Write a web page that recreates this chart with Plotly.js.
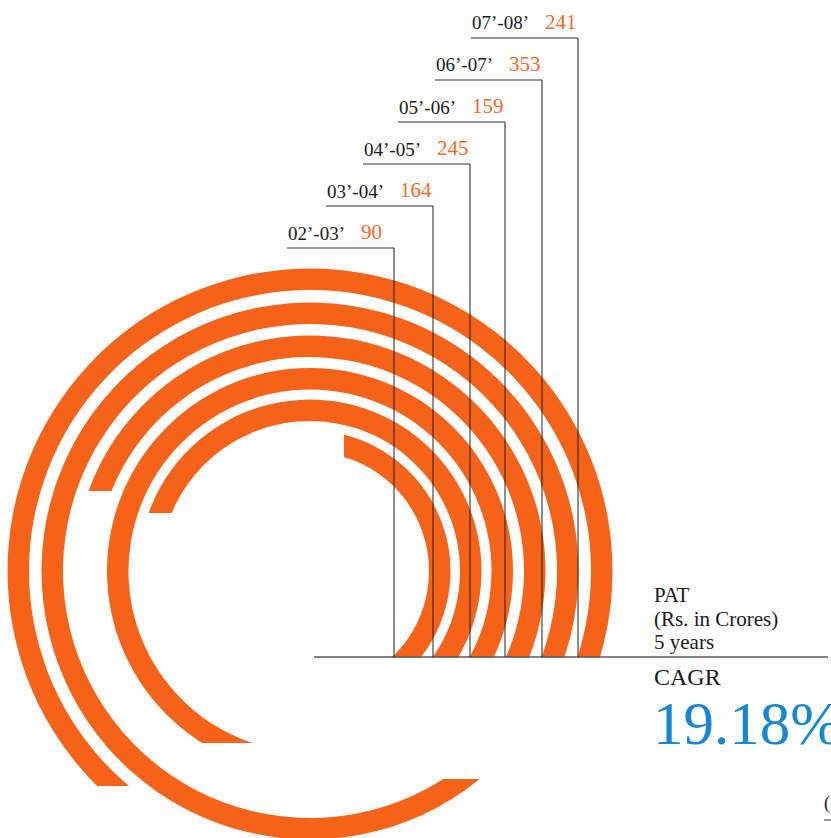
<!DOCTYPE html>
<html>
<head>
<meta charset="utf-8">
<script src="https://cdn.plot.ly/plotly-3.0.1.min.js"></script>
<style>
  html, body { margin: 0; padding: 0; background: #ffffff; overflow: hidden; }
  #wrap { width: 831px; height: 838px; overflow: hidden; position: relative; }
  #chart { width: 831px; height: 890px; }
</style>
</head>
<body>
<div id="wrap"><div id="chart"></div></div>
<script>
// ---- data ----
var years  = ["02\u2019-03\u2019", "03\u2019-04\u2019", "04\u2019-05\u2019", "05\u2019-06\u2019", "06\u2019-07\u2019", "07\u2019-08\u2019"];
var values = [90, 164, 245, 159, 353, 241];
// angle (degrees, counter-clockwise from east) where each ring's arc ends
var arcEndDeg = [74.8, 158.85, 243.5, 159.15, 306.2, 227.5];
var cagrLabel = "19.18%";

// ---- layout / style constants ----
var W = 831, H = 890;
var CX = 310, CY = 571, RPX = 310;      // polar centre & radius in px
var BASE_Y = 657;                        // baseline (px)
var ringInner = [119, 150, 181.5, 214, 247, 281];
var ringThick = 21.5;
var cutType = ["v", "h", "h", "h", "h", "h"];   // straight end cut orientation
var lineX = [394, 433, 470, 505, 542, 578];
var ORANGE = "#F5631A";
var NUM_ORANGE = "#F26A2C";
var BLUE = "#1786D4";
var FONT = "Liberation Serif, Times New Roman, serif";
var D2R = Math.PI / 180;

function px(x) { return x / W; }
function py(y) { return 1 - y / H; }
function ptX(r, deg) { return CX + r * Math.cos(deg * D2R); }
function ptY(r, deg) { return CY - r * Math.sin(deg * D2R); }

var shapes = [];
function maskRect(x0, x1, y0, y1) {
  shapes.push({ type: "rect", xref: "paper", yref: "paper", layer: "above",
    x0: px(x0), x1: px(x1), y0: py(y1), y1: py(y0),
    fillcolor: "#ffffff", line: { width: 0 } });
}

var thetaC = [], widthDeg = [], baseR = [], thickR = [];
for (var i = 0; i < years.length; i++) {
  var rIn = ringInner[i], rOut = rIn + ringThick, rMid = rIn + ringThick / 2;
  // start just below the baseline (hidden under a white mask)
  var start = -(Math.asin((BASE_Y - CY) / rIn) / D2R + 4);
  var a = arcEndDeg[i];
  var cut, dir, coord;
  if (cutType[i] === "h") {
    cut = ptY(rMid, a); dir = -Math.cos(a * D2R) > 0 ? 1 : -1; coord = ptY;
  } else {
    cut = ptX(rMid, a); dir = -Math.sin(a * D2R) > 0 ? 1 : -1; coord = ptX;
  }
  var th = a;
  while (!(dir * (coord(rIn, th) - cut) > 0 && dir * (coord(rOut, th) - cut) > 0) && th < a + 40) th += 0.25;
  var ext = th + 3;
  thetaC.push((start + ext) / 2);
  widthDeg.push(ext - start);
  baseR.push(rIn);
  thickR.push(ringThick);

  // mask beyond the straight cut
  var xs = [ptX(rIn, ext), ptX(rOut, ext)], ys = [ptY(rIn, ext), ptY(rOut, ext)];
  if (cutType[i] === "h") {
    var dy = cut - CY, side = Math.cos(a * D2R) >= 0 ? 1 : -1;
    xs.push(CX + side * Math.sqrt(rIn * rIn - dy * dy), CX + side * Math.sqrt(rOut * rOut - dy * dy));
    var xa = Math.min.apply(null, xs) - 2, xb = Math.max.apply(null, xs) + 2;
    if (dir > 0) maskRect(xa, xb, cut, Math.max.apply(null, ys) + 2);
    else maskRect(xa, xb, Math.min.apply(null, ys) - 2, cut);
  } else {
    var dx = cut - CX, sideY = Math.sin(a * D2R) >= 0 ? -1 : 1;
    ys.push(CY + sideY * Math.sqrt(rIn * rIn - dx * dx), CY + sideY * Math.sqrt(rOut * rOut - dx * dx));
    var ya = Math.min.apply(null, ys) - 2, yb = Math.max.apply(null, ys) + 2;
    if (dir > 0) maskRect(cut, Math.max.apply(null, xs) + 2, ya, yb);
    else maskRect(Math.min.apply(null, xs) - 2, cut, ya, yb);
  }
}

var trace = {
  type: "barpolar",
  r: thickR,
  base: baseR,
  theta: thetaC,
  width: widthDeg,
  marker: { color: ORANGE, line: { width: 0 } },
  hoverinfo: "skip",
  showlegend: false
};

// white mask below baseline to give flat starts
maskRect(378, 831, 657.6, 705);
// baseline
shapes.push({ type: "line", xref: "paper", yref: "paper", layer: "above",
  x0: px(314), x1: px(828), y0: py(BASE_Y), y1: py(BASE_Y),
  line: { color: "#5a5a5a", width: 1.5 } });

var annotations = [];
for (var j = 0; j < years.length; j++) {
  var uy = 248 - 42 * j;          // underline y
  var ux0 = lineX[j] - 107;       // underline left
  shapes.push({ type: "line", xref: "paper", yref: "paper", layer: "above",
    x0: px(ux0), x1: px(lineX[j]), y0: py(uy), y1: py(uy),
    line: { color: "#333333", width: 1.2 } });
  shapes.push({ type: "line", xref: "paper", yref: "paper", layer: "above",
    x0: px(lineX[j]), x1: px(lineX[j]), y0: py(uy), y1: py(BASE_Y),
    line: { color: "#1e1e1e", width: 1 } });
  annotations.push({ xref: "paper", yref: "paper", x: px(ux0 - 1), y: py(uy - 15),
    xanchor: "left", yanchor: "middle", showarrow: false, text: years[j],
    font: { family: FONT, size: 19, color: "#1a1a1a" } });
  annotations.push({ xref: "paper", yref: "paper", x: px(ux0 + 72), y: py(uy - 16),
    xanchor: "left", yanchor: "middle", showarrow: false, text: String(values[j]),
    font: { family: FONT, size: 21, color: NUM_ORANGE } });
}

function txt(x, y, t, size, color, h) {
  var an = { xref: "paper", yref: "paper", x: px(x), y: py(y),
    xanchor: "left", yanchor: "middle", showarrow: false, text: t,
    font: { family: FONT, size: size, color: color } };
  if (h) an.height = h;
  annotations.push(an);
}
txt(652, 595, "PAT", 21, "#1a1a1a");
txt(652, 619, "(Rs. in Crores)", 21, "#1a1a1a");
txt(652, 642, "5 years", 21, "#1a1a1a");
txt(652, 677, "CAGR", 24, "#1a1a1a");
txt(651, 723, cagrLabel, 61, BLUE, 50);
txt(822, 803, "(", 18, "#1a1a1a");
shapes.push({ type: "line", xref: "paper", yref: "paper", layer: "above",
  x0: px(824), x1: px(831), y0: py(820), y1: py(820),
  line: { color: "#333333", width: 1 } });

var layout = {
  width: W, height: H,
  margin: { l: 0, r: 0, t: 0, b: 0, pad: 0 },
  paper_bgcolor: "#ffffff",
  showlegend: false,
  polar: {
    domain: { x: [px(CX - RPX), px(CX + RPX)], y: [py(CY + RPX), py(CY - RPX)] },
    bgcolor: "rgba(0,0,0,0)",
    barmode: "overlay",
    hole: 0,
    radialaxis: { range: [0, RPX], visible: false, showgrid: false, showline: false, showticklabels: false },
    angularaxis: { rotation: 0, direction: "counterclockwise", visible: false, showgrid: false, showline: false, showticklabels: false }
  },
  shapes: shapes,
  annotations: annotations
};

Plotly.newPlot("chart", [trace], layout, { staticPlot: true, displayModeBar: false });
</script>
</body>
</html>
